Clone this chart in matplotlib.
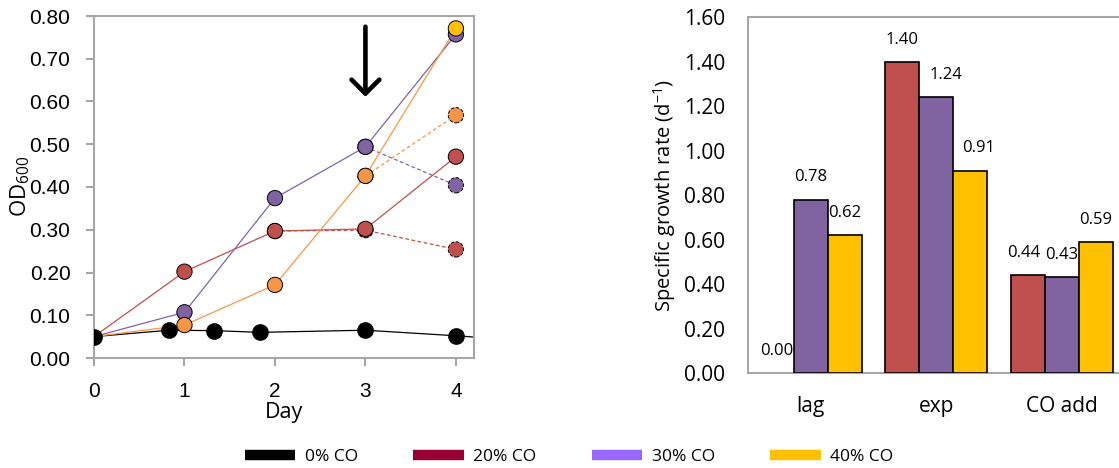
import matplotlib
matplotlib.use("Agg")
import matplotlib.pyplot as plt
from matplotlib.lines import Line2D
import numpy as np

# ---------------- data ----------------
days = [0, 1, 2, 3, 4]
days_0co = [0, 0.83, 1.33, 1.83, 3, 4, 5]
od_0co = [0.050, 0.065, 0.064, 0.060, 0.065, 0.052, 0.037]

od_20_a = [0.050, 0.202, 0.297, 0.302, 0.471]
days_20_b = [2, 3, 4]
od_20_b = [0.297, 0.299, 0.254]

od_30_a = [0.050, 0.107, 0.374, 0.494, 0.757]
days_30_b = [3, 4]
od_30_b = [0.494, 0.404]

od_40_a = [0.050, 0.077, 0.171, 0.426, 0.771]
days_40_b = [3, 4]
od_40_b = [0.426, 0.568]

arrow_day = 3
arrow_from = 0.775
arrow_to = 0.611

phases = ["lag", "exp", "CO add"]
rate_20 = [0.00, 1.40, 0.44]
rate_30 = [0.78, 1.24, 0.43]
rate_40 = [0.62, 0.91, 0.59]

legend_labels = ["0% CO", "20% CO", "30% CO", "40% CO"]

# ---------------- style ----------------
RED = "#C0504D"
PURPLE = "#8064A2"
ORANGE = "#F79646"
YELLOW = "#FFC000"
GRID = "#A6A6A6"
CAL = ["Open Sans", "DejaVu Sans"]
ARIAL = ["Liberation Sans", "DejaVu Sans"]

W, H = 1119, 468
fig = plt.figure(figsize=(W / 100, H / 100), dpi=100)

def fx(px):
    return px / W

def fy(py):
    return 1 - py / H

# ---------------- left: OD curves ----------------
axL = fig.add_axes([fx(94), fy(358), fx(474 - 94), (358 - 16) / H])
axL.set_xlim(0, 4.2)
axL.set_ylim(0, 0.8)

ms = 11.0
s_area = ms ** 2

axL.plot(days_0co, od_0co, color="black", lw=0.9, zorder=2)
axL.plot(days_0co, od_0co, ls="none", marker="o", ms=ms, mfc="black",
         mec="black", zorder=3)

series = [
    (days, od_20_a, days_20_b, od_20_b, RED, [RED] * 5),
    (days, od_30_a, days_30_b, od_30_b, PURPLE, [PURPLE] * 5),
    (days, od_40_a, days_40_b, od_40_b, ORANGE, [ORANGE] * 4 + [YELLOW]),
]
for xa, ya, xb, yb, c, mcols in series:
    axL.plot(xb, yb, color=c, lw=0.9, ls=(0, (3, 2)), zorder=2)
    axL.plot(xa, ya, color=c, lw=0.9, zorder=2)
for xa, ya, xb, yb, c, mcols in series:
    axL.scatter(xb, yb, s=s_area, c=c, edgecolors="black", linewidths=0.7,
                linestyles="--", zorder=4)
for xa, ya, xb, yb, c, mcols in series:
    # the day-0 point is hidden under the 0% CO marker in the original
    axL.scatter(xa[1:], ya[1:], s=s_area, c=mcols[1:], edgecolors="black",
                linewidths=0.7, zorder=5)

axL.annotate("", xy=(arrow_day, arrow_to), xytext=(arrow_day, arrow_from),
             arrowprops=dict(arrowstyle="->,head_length=0.5,head_width=0.5",
                             lw=3.3, color="black", mutation_scale=20,
                             shrinkA=0, shrinkB=0),
             zorder=6)

axL.set_xticks(days)
axL.set_yticks(np.arange(0, 0.81, 0.1))
axL.set_yticklabels([f"{v:.2f}" for v in np.arange(0, 0.81, 0.1)])
for sp in axL.spines.values():
    sp.set_color(GRID)
    sp.set_linewidth(1.5)
axL.tick_params(axis="both", direction="out", length=6, width=1.5, color=GRID,
                labelsize=15, pad=11)
for lab in axL.get_xticklabels() + axL.get_yticklabels():
    lab.set_family(ARIAL)
axL.set_xlabel("Day", family=CAL, fontsize=15.5, labelpad=1)
fig.text(fx(20), fy(186), r"$\mathregular{OD_{600}}$", rotation=90,
         ha="center", va="center", fontsize=16, family=CAL)

# ---------------- right: growth rates ----------------
axR = fig.add_axes([fx(748), fy(373), fx(1124.5 - 748), (373 - 17.3) / H])
x = np.arange(len(phases))
bw = 0.27
label_dx = [[0, 0, -3], [0, 7, 0], [0, 6, 0]]
for i, (vals, c) in enumerate([(rate_20, RED), (rate_30, PURPLE), (rate_40, YELLOW)]):
    xs = x + (i - 1) * bw
    lws = [1.2 if v > 0 else 0 for v in vals]
    axR.bar(xs, vals, width=bw, color=c, edgecolor="black", linewidth=lws,
            zorder=3)
    for j, (xx, v) in enumerate(zip(xs, vals)):
        axR.annotate(f"{v:.2f}", xy=(xx, v), xytext=(label_dx[i][j], 16),
                     textcoords="offset points", ha="center", va="center",
                     fontsize=12, family=CAL)
axR.set_xlim(-0.5, 2.5)
axR.set_ylim(0, 1.6)
axR.set_xticks(x)
axR.set_xticklabels(phases)
yt = np.arange(0, 1.61, 0.2)
axR.set_yticks(yt)
axR.set_yticklabels([f"{v:.2f}" for v in yt])
axR.tick_params(axis="both", length=0, labelsize=15, pad=16.5)
for lab in axR.get_xticklabels() + axR.get_yticklabels():
    lab.set_family(CAL)
for k, sp in axR.spines.items():
    sp.set_color(GRID)
    sp.set_linewidth(1.5)
axR.spines["right"].set_visible(False)
axR.set_ylabel(r"Specific growth rate (d$^{\mathregular{-1}}$)", family=CAL,
               fontsize=14.5)
axR.yaxis.set_label_coords((665 - 748) / (1124.5 - 748) + 0.035, 0.5)

# ---------------- legend ----------------
handles = [Line2D([0], [0], color=c, lw=7.5, solid_capstyle="butt")
           for c in ["black", "#990033", "#9966FF", YELLOW]]
fig.legend(handles, legend_labels, loc="center",
           bbox_to_anchor=(fx(569), fy(457)), ncol=4, frameon=False,
           prop={"family": CAL, "size": 12.5}, handlelength=2.9,
           handletextpad=0.55, columnspacing=3.2)

fig.savefig("out.png", dpi=100)
